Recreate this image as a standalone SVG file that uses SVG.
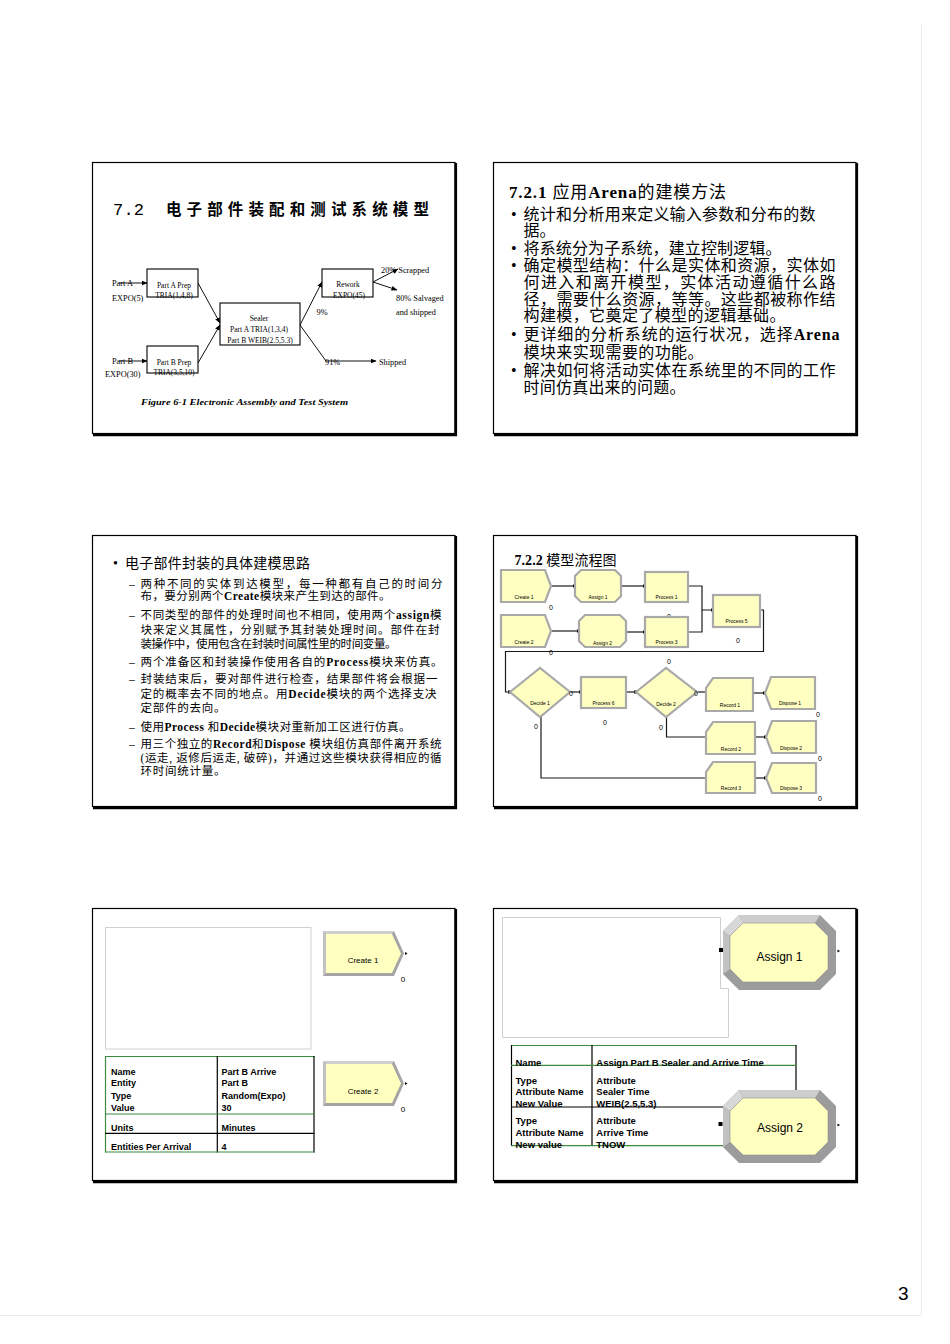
<svg xmlns="http://www.w3.org/2000/svg" width="950" height="1344" viewBox="0 0 950 1344">
<defs>
<marker id="ah" markerUnits="userSpaceOnUse" markerWidth="6" markerHeight="6" refX="5.5" refY="3" orient="auto"><path d="M0,0.6 L6,3 L0,5.4 z" fill="#000"/></marker>
<marker id="pt" markerUnits="userSpaceOnUse" markerWidth="4" markerHeight="4" refX="2" refY="2" orient="auto"><rect x="0" y="0.5" width="3.5" height="3" fill="#000"/></marker>
</defs>
<style>
.frame{fill:#fff;stroke:#000;stroke-width:1.2}
.shd{stroke:#000;stroke-width:2.6;fill:none}
.sr{font-family:"Liberation Serif","Noto Sans CJK SC",serif;fill:#000}
.ss{font-family:"Liberation Sans",Arial,sans-serif;fill:#000}
.b{font-weight:bold}
.f1{font-size:7.5px}
.f2{font-size:8.3px}
.mid{text-anchor:middle}
.box{fill:#fff;stroke:#000;stroke-width:1.1}
.ln{fill:none;stroke:#111;stroke-width:1}
.mod{fill:#FFFFC2;stroke:#A9A9A9;stroke-width:2.2}
.cn{fill:none;stroke:#1a1a1a;stroke-width:1.2}
.ml{font-size:5px;text-anchor:middle}
.ct{font-size:7px;text-anchor:middle}
.gl{stroke:#3d8b3d;stroke-width:1.2}
.bl{stroke:#000;stroke-width:1.2}
.t9{font-size:9px;font-weight:bold}
.t95{font-size:9.5px;font-weight:bold}
.s2{font-size:16px}
.s3{font-size:11.5px}
</style>
<rect width="950" height="1344" fill="#fff"/>
<path d="M921.5 25 V1315.5 H0" fill="none" stroke="#ebebeb" stroke-width="1"/>
<text class="ss" x="898" y="1300" font-size="19">3</text>

<!-- Slide 1 -->
<g id="slide1">
<rect class="frame" x="92.5" y="162.5" width="362.5" height="271"/>
<path class="shd" d="M455.8 163 V435 H93"/>
<text x="113" y="215" font-family="Liberation Mono,monospace" font-size="17" textLength="31">7.2</text>
<text x="166" y="215" font-family="'Noto Sans CJK SC',sans-serif" font-weight="bold" font-size="15.5" textLength="263" lengthAdjust="spacing">电子部件装配和测试系统模型</text>
<g id="fig-connectors">
<line class="ln" x1="119" y1="283" x2="147" y2="283" marker-end="url(#ah)"/>
<line class="ln" x1="119" y1="361" x2="147" y2="361" marker-end="url(#ah)"/>
<line class="ln" x1="198" y1="283" x2="220" y2="323" marker-end="url(#ah)"/>
<line class="ln" x1="198" y1="363" x2="220" y2="325" marker-end="url(#ah)"/>
<line class="ln" x1="300" y1="325" x2="322" y2="282" marker-end="url(#ah)"/>
<polyline class="ln" points="300,325 326,361 376,361" marker-end="url(#ah)"/>
<line class="ln" x1="373" y1="282" x2="398" y2="269" marker-end="url(#ah)"/>
<line class="ln" x1="373" y1="282" x2="397" y2="290" marker-end="url(#ah)"/>
</g>
<g id="fig-partA">
<text class="sr f2" x="112" y="286">Part A</text>
<text class="sr f2" x="112" y="301">EXPO(5)</text>
</g>
<g id="fig-partAprep">
<rect class="box" x="147" y="269" width="51" height="28" fill="none"/>
<text class="sr f1 mid" x="174" y="287.5">Part A Prep</text>
<text class="sr f1 mid" x="174" y="297.5">TRIA(1,4,8)</text>
</g>
<g id="fig-partB">
<text class="sr f2" x="112" y="364">Part B</text>
<text class="sr f2" x="105" y="377">EXPO(30)</text>
</g>
<g id="fig-partBprep">
<rect class="box" x="147" y="346" width="51" height="27" fill="none"/>
<text class="sr f1 mid" x="174" y="365">Part B Prep</text>
<text class="sr f1 mid" x="174" y="375">TRIA(3,5,10)</text>
</g>
<g id="fig-sealer">
<rect class="box" x="220" y="303" width="80" height="42"/>
<text class="sr f1 mid" x="259" y="321">Sealer</text>
<text class="sr f1 mid" x="259" y="332">Part A TRIA(1,3,4)</text>
<text class="sr f1 mid" x="260" y="343">Part B WEIB(2.5,5.3)</text>
</g>
<g id="fig-rework">
<rect class="box" x="322" y="269" width="51" height="28"/>
<text class="sr f1 mid" x="348" y="287">Rework</text>
<text class="sr f1 mid" x="349" y="297.5">EXPO(45)</text>
</g>
<g id="fig-labels">
<text class="sr f2" x="316.5" y="315">9%</text>
<text class="sr f2" x="325" y="364.5">91%</text>
<text class="sr f2" x="379" y="364.5">Shipped</text>
<text class="sr f2" x="381" y="272.5">20% Scrapped</text>
<text class="sr f2" x="396" y="300.5">80% Salvaged</text>
<text class="sr f2" x="396" y="314.5">and shipped</text>
</g>
<text class="sr b" font-style="italic" font-size="8.5" x="141" y="405" textLength="207" lengthAdjust="spacingAndGlyphs">Figure 6-1 Electronic Assembly and Test System</text>
</g>

<!-- Slide 2 -->
<g id="slide2">
<rect class="frame" x="493.5" y="162.5" width="362.5" height="271"/>
<path class="shd" d="M856.8 163 V435 H494"/>
<text class="sr" x="509" y="198" font-size="17" textLength="217"><tspan class="b">7.2.1 </tspan>应用<tspan class="b">Arena</tspan>的建模方法</text>
<g class="sr s2">
<text x="511" y="220">•</text>
<text x="523.5" y="220" textLength="292">统计和分析用来定义输入参数和分布的数</text>
<text x="523.5" y="236">据。</text>
<text x="511" y="254">•</text>
<text x="523.5" y="254" textLength="258">将系统分为子系统，建立控制逻辑。</text>
<text x="511" y="271">•</text>
<text x="523.5" y="271" textLength="312">确定模型结构：什么是实体和资源，实体如</text>
<text x="523.5" y="288" textLength="312">何进入和离开模型，实体活动遵循什么路</text>
<text x="523.5" y="305" textLength="312">径，需要什么资源，等等。这些都被称作结</text>
<text x="523.5" y="321" textLength="262">构建模，它奠定了模型的逻辑基础。</text>
<text x="511" y="340">•</text>
<text x="523.5" y="340" textLength="316">更详细的分析系统的运行状况，选择<tspan class="b">Arena</tspan></text>
<text x="523.5" y="358" textLength="180">模块来实现需要的功能。</text>
<text x="511" y="376">•</text>
<text x="523.5" y="376" textLength="312">解决如何将活动实体在系统里的不同的工作</text>
<text x="523.5" y="393" textLength="162">时间仿真出来的问题。</text>
</g>
</g>

<!-- Slide 3 -->
<g id="slide3">
<rect class="frame" x="92.5" y="535.5" width="362.5" height="271"/>
<path class="shd" d="M455.8 536 V808 H93"/>
<text class="sr" x="113" y="568" font-size="14">•</text>
<text class="sr" x="125" y="568" font-size="14" textLength="185">电子部件封装的具体建模思路</text>
<g class="sr s3">
<text x="129" y="588">–</text>
<text x="140.5" y="588" textLength="302">两种不同的实体到达模型，每一种都有自己的时间分</text>
<text x="140.5" y="600" textLength="250">布，要分别两个<tspan class="b">Create</tspan>模块来产生到达的部件。</text>
<text x="129" y="619">–</text>
<text x="140.5" y="619" textLength="301">不同类型的部件的处理时间也不相同，使用两个<tspan class="b">assign</tspan>模</text>
<text x="140.5" y="634" textLength="299">块来定义其属性，分别赋予其封装处理时间。部件在封</text>
<text x="140.5" y="648" textLength="256">装操作中，使用包含在封装时间属性里的时间变量。</text>
<text x="129" y="666">–</text>
<text x="140.5" y="666" textLength="302">两个准备区和封装操作使用各自的<tspan class="b">Process</tspan>模块来仿真。</text>
<text x="129" y="683">–</text>
<text x="140.5" y="683" textLength="297">封装结束后，要对部件进行检查，结果部件将会根据一</text>
<text x="140.5" y="698" textLength="296">定的概率去不同的地点。用<tspan class="b">Decide</tspan>模块的两个选择支决</text>
<text x="140.5" y="712" textLength="85">定部件的去向。</text>
<text x="129" y="731">–</text>
<text x="140.5" y="731" textLength="270">使用<tspan class="b">Process </tspan>和<tspan class="b">Decide</tspan>模块对重新加工区进行仿真。</text>
<text x="129" y="748">–</text>
<text x="140.5" y="748" textLength="301">用三个独立的<tspan class="b">Record</tspan>和<tspan class="b">Dispose </tspan>模块组仿真部件离开系统</text>
<text x="140.5" y="762" textLength="301">(运走, 返修后运走, 破碎)，并通过这些模块获得相应的循</text>
<text x="140.5" y="775" textLength="85">环时间统计量。</text>
</g>
</g>

<!-- Slide 4 -->
<g id="slide4">
<rect class="frame" x="493.5" y="535.5" width="362.5" height="271"/>
<path class="shd" d="M856.8 536 V808 H494"/>
<text class="sr" x="514.5" y="565" font-size="14" textLength="102"><tspan class="b">7.2.2</tspan> 模型流程图</text>
<g id="flow-connectors">
<line class="cn" x1="552" y1="586" x2="575" y2="586" marker-end="url(#pt)"/>
<line class="cn" x1="622" y1="586" x2="645" y2="586" marker-end="url(#pt)"/>
<polyline class="cn" points="689,586 702,586 702,610 713,610" marker-end="url(#pt)"/>
<line class="cn" x1="552" y1="631" x2="579" y2="631" marker-end="url(#pt)"/>
<line class="cn" x1="627" y1="632" x2="645" y2="632" marker-end="url(#pt)"/>
<polyline class="cn" points="689,632 702,632 702,610"/>
<polyline class="cn" points="761,610 763.5,610 763.5,651.5 505.5,651.5 505.5,692 510,692" marker-end="url(#pt)"/>
<line class="cn" x1="571" y1="692" x2="581" y2="692" marker-end="url(#pt)"/>
<line class="cn" x1="627" y1="692" x2="636" y2="692" marker-end="url(#pt)"/>
<line class="cn" x1="698" y1="692" x2="706" y2="692"/>
<line class="cn" x1="754" y1="693" x2="765" y2="693" marker-end="url(#pt)"/>
<polyline class="cn" points="541,717 541,778 706,778"/>
<polyline class="cn" points="666.5,717 666.5,737 706,737"/>
<line class="cn" x1="756" y1="737" x2="766" y2="737" marker-end="url(#pt)"/>
<line class="cn" x1="756" y1="778" x2="766" y2="778" marker-end="url(#pt)"/>
</g>
<g id="create1-s"><polygon class="mod" points="501,570 545,570 551,586 545,602 501,602"/><text class="ss ml" x="524" y="598.5">Create 1</text><text class="ss ct" x="551" y="609.5">0</text></g>
<g id="assign1-s"><polygon class="mod" points="581,570 615,570 621,576 621,596 615,602 581,602 575,596 575,576"/><text class="ss ml" x="598" y="598.5">Assign 1</text></g>
<g id="process1-s"><rect class="mod" x="645" y="572" width="43" height="30"/><text class="ss ml" x="666.5" y="598.5">Process 1</text><text class="ss ct" x="669" y="618.5">0</text></g>
<g id="process5-s"><rect class="mod" x="713" y="595" width="47" height="32"/><text class="ss ml" x="736.5" y="623">Process 5</text><text class="ss ct" x="738" y="642.5">0</text></g>
<g id="create2-s"><polygon class="mod" points="501,615 545,615 551,631 545,647 501,647"/><text class="ss ml" x="524" y="644">Create 2</text><text class="ss ct" x="551" y="654.5">0</text></g>
<g id="assign2-s"><polygon class="mod" points="585,615 620,615 626,621 626,641 620,647 585,647 579,641 579,621"/><text class="ss ml" x="602.5" y="645">Assign 2</text></g>
<g id="process3-s"><rect class="mod" x="645" y="617" width="43" height="30"/><text class="ss ml" x="666.5" y="644">Process 3</text><text class="ss ct" x="669" y="663.5">0</text></g>
<g id="decide1-s"><polygon class="mod" points="510,692 540,668 570,692 540,717"/><text class="ss ml" x="540" y="705">Decide 1</text><text class="ss ct" x="571" y="695.5">0</text><text class="ss ct" x="536" y="728.5">0</text></g>
<g id="process6-s"><rect class="mod" x="581" y="677" width="45" height="31"/><text class="ss ml" x="603.5" y="705">Process 6</text><text class="ss ct" x="605" y="724.5">0</text></g>
<g id="decide2-s"><polygon class="mod" points="636,692 666,668 697,692 666,717"/><text class="ss ml" x="666" y="705.5">Decide 2</text><text class="ss ct" x="696" y="695.5">0</text><text class="ss ct" x="661" y="729.5">0</text></g>
<g id="record1-s"><polygon class="mod" points="713,678 753,678 753,711 706,711 706,688"/><text class="ss ml" x="730" y="707">Record 1</text></g>
<g id="dispose1-s"><polygon class="mod" points="771,677 815,677 815,709 771,709 765,693"/><text class="ss ml" x="790" y="705">Dispose 1</text><text class="ss ct" x="818" y="716.5">0</text></g>
<g id="record2-s"><polygon class="mod" points="713,722 755,722 755,754 706,754 706,732"/><text class="ss ml" x="731" y="751">Record 2</text></g>
<g id="dispose2-s"><polygon class="mod" points="772,721 816,721 816,753 772,753 766,737"/><text class="ss ml" x="791" y="749.5">Dispose 2</text><text class="ss ct" x="820" y="760.5">0</text></g>
<g id="record3-s"><polygon class="mod" points="713,762 755,762 755,793 706,793 706,772"/><text class="ss ml" x="731" y="790">Record 3</text></g>
<g id="dispose3-s"><polygon class="mod" points="772,763 816,763 816,793 772,793 766,778"/><text class="ss ml" x="791" y="790">Dispose 3</text><text class="ss ct" x="820" y="800.5">0</text></g>
</g>

<!-- Slide 5 -->
<g id="slide5">
<rect class="frame" x="92.5" y="908.5" width="362.5" height="272"/>
<path class="shd" d="M455.8 909 V1182 H93"/>
<rect x="105.5" y="927.5" width="205.5" height="121.5" fill="none" stroke="#cfcfcf" stroke-width="1"/>
<g id="table5">
<line class="gl" x1="105" y1="1056.5" x2="314.5" y2="1056.5"/>
<line class="gl" x1="105.5" y1="1056" x2="105.5" y2="1152.5"/>
<line class="bl" x1="314" y1="1056" x2="314" y2="1152.5"/>
<line class="bl" x1="217.3" y1="1056" x2="217.3" y2="1152.5"/>
<line class="gl" x1="105" y1="1114" x2="314.5" y2="1114"/>
<line class="bl" x1="105" y1="1133.3" x2="314.5" y2="1133.3"/>
<line class="gl" x1="105" y1="1152" x2="314.5" y2="1152"/>
<g class="ss t9">
<text x="111" y="1074.5">Name</text><text x="111" y="1086">Entity</text><text x="111" y="1098.5">Type</text><text x="111" y="1110.5">Value</text>
<text x="111" y="1130.5">Units</text><text x="111" y="1150">Entities Per Arrival</text>
<text x="221.5" y="1074.5">Part B Arrive</text><text x="221.5" y="1086">Part B</text><text x="221.5" y="1098.5">Random(Expo)</text><text x="221.5" y="1110.5">30</text>
<text x="221.5" y="1130.5">Minutes</text><text x="221.5" y="1150">4</text>
</g>
</g>
<g id="create1-big">
<polygon points="323,931 394,931 404,953.5 394,976 323,976" fill="#A4A4A4"/>
<polygon points="323,931 394,931 392,934 326,934" fill="#CFCFCF"/>
<polygon points="323,931 326,934 326,973 323,976" fill="#C2C2C2"/>
<polygon points="326,934 392,934 401,953.5 392,973 326,973" fill="#FFFFC0"/>
<polygon points="405,952 407.5,953.5 405,955" fill="#000"/>
<text class="ss mid" x="363" y="963" font-size="8">Create 1</text>
<text class="ss mid" x="403" y="982" font-size="8">0</text>
</g>
<g id="create2-big">
<polygon points="323,1061 394,1061 404,1083.5 394,1106 323,1106" fill="#A4A4A4"/>
<polygon points="323,1061 394,1061 392,1064 326,1064" fill="#CFCFCF"/>
<polygon points="323,1061 326,1064 326,1103 323,1106" fill="#C2C2C2"/>
<polygon points="326,1064 392,1064 401,1083.5 392,1103 326,1103" fill="#FFFFC0"/>
<polygon points="405,1082 407.5,1083.5 405,1085" fill="#000"/>
<text class="ss mid" x="363" y="1093.5" font-size="8">Create 2</text>
<text class="ss mid" x="403" y="1112" font-size="8">0</text>
</g>
</g>

<!-- Slide 6 -->
<g id="slide6">
<rect class="frame" x="493.5" y="908.5" width="362.5" height="272"/>
<path class="shd" d="M856.8 909 V1182 H494"/>
<path d="M502.5 917.5 H720.5 V988.5 H728.5 V1037.5 H502.5 Z" fill="none" stroke="#cfcfcf" stroke-width="1"/>
<g id="assign1-big">
<polygon points="739,915 820,915 836,931 836,974 820,990 739,990 723,974 723,931" fill="#9C9C9C"/>
<polygon points="739,915 820,915 815,923 743,923" fill="#CDCDCD"/>
<polygon points="723,931 739,915 743,923 730,936" fill="#D8D8D8"/>
<polygon points="723,931 730,936 730,969 723,974" fill="#C2C2C2"/>
<polygon points="743,923 815,923 828,936 828,969 815,982 743,982 730,969 730,936" fill="#FFFFC0" stroke="#8f8f8f" stroke-width="0.6"/>
<rect x="719" y="948" width="4" height="4" fill="#000"/>
<polygon points="837.5,949.5 840,951 837.5,952.5" fill="#000"/>
<text class="ss mid" x="779.5" y="960.5" font-size="12">Assign 1</text>
</g>
<g id="table6">
<line class="gl" x1="511" y1="1045.5" x2="796.5" y2="1045.5"/>
<line class="bl" x1="511.5" y1="1045" x2="511.5" y2="1146"/>
<line class="bl" x1="592" y1="1045" x2="592" y2="1146"/>
<line class="bl" x1="796" y1="1045" x2="796" y2="1092"/>
<line class="gl" x1="511" y1="1065.3" x2="796.5" y2="1065.3"/>
<line class="bl" x1="511" y1="1107" x2="723" y2="1107"/>
<line class="gl" x1="511" y1="1145.7" x2="723" y2="1145.7"/>
<g class="ss t95">
<text x="515.5" y="1065.5">Name</text><text x="596.3" y="1065.5">Assign Part B Sealer and Arrive Time</text>
<text x="515.5" y="1083.5">Type</text><text x="515.5" y="1095">Attribute Name</text><text x="515.5" y="1107">New Value</text>
<text x="596.3" y="1083.5">Attribute</text><text x="596.3" y="1095">Sealer Time</text><text x="596.3" y="1107">WEIB(2.5,5.3)</text>
<text x="515.5" y="1123.5">Type</text><text x="515.5" y="1135.5">Attribute Name</text><text x="515.5" y="1147.5">New value</text>
<text x="596.3" y="1123.5">Attribute</text><text x="596.3" y="1135.5">Arrive Time</text><text x="596.3" y="1147.5">TNOW</text>
</g>
</g>
<g id="assign2-big">
<polygon points="739,1090 820,1090 836,1106 836,1147 820,1163 739,1163 723,1147 723,1106" fill="#9C9C9C"/>
<polygon points="739,1090 820,1090 815,1098 743,1098" fill="#CDCDCD"/>
<polygon points="723,1106 739,1090 743,1098 730,1111" fill="#D8D8D8"/>
<polygon points="723,1106 730,1111 730,1142 723,1147" fill="#C2C2C2"/>
<polygon points="743,1098 815,1098 828,1111 828,1142 815,1155 743,1155 730,1142 730,1111" fill="#FFFFC0" stroke="#8f8f8f" stroke-width="0.6"/>
<rect x="718.5" y="1122" width="4" height="4" fill="#000"/>
<polygon points="837.5,1123.5 840,1125 837.5,1126.5" fill="#000"/>
<text class="ss mid" x="780" y="1132" font-size="12">Assign 2</text>
</g>
</g>
</svg>
